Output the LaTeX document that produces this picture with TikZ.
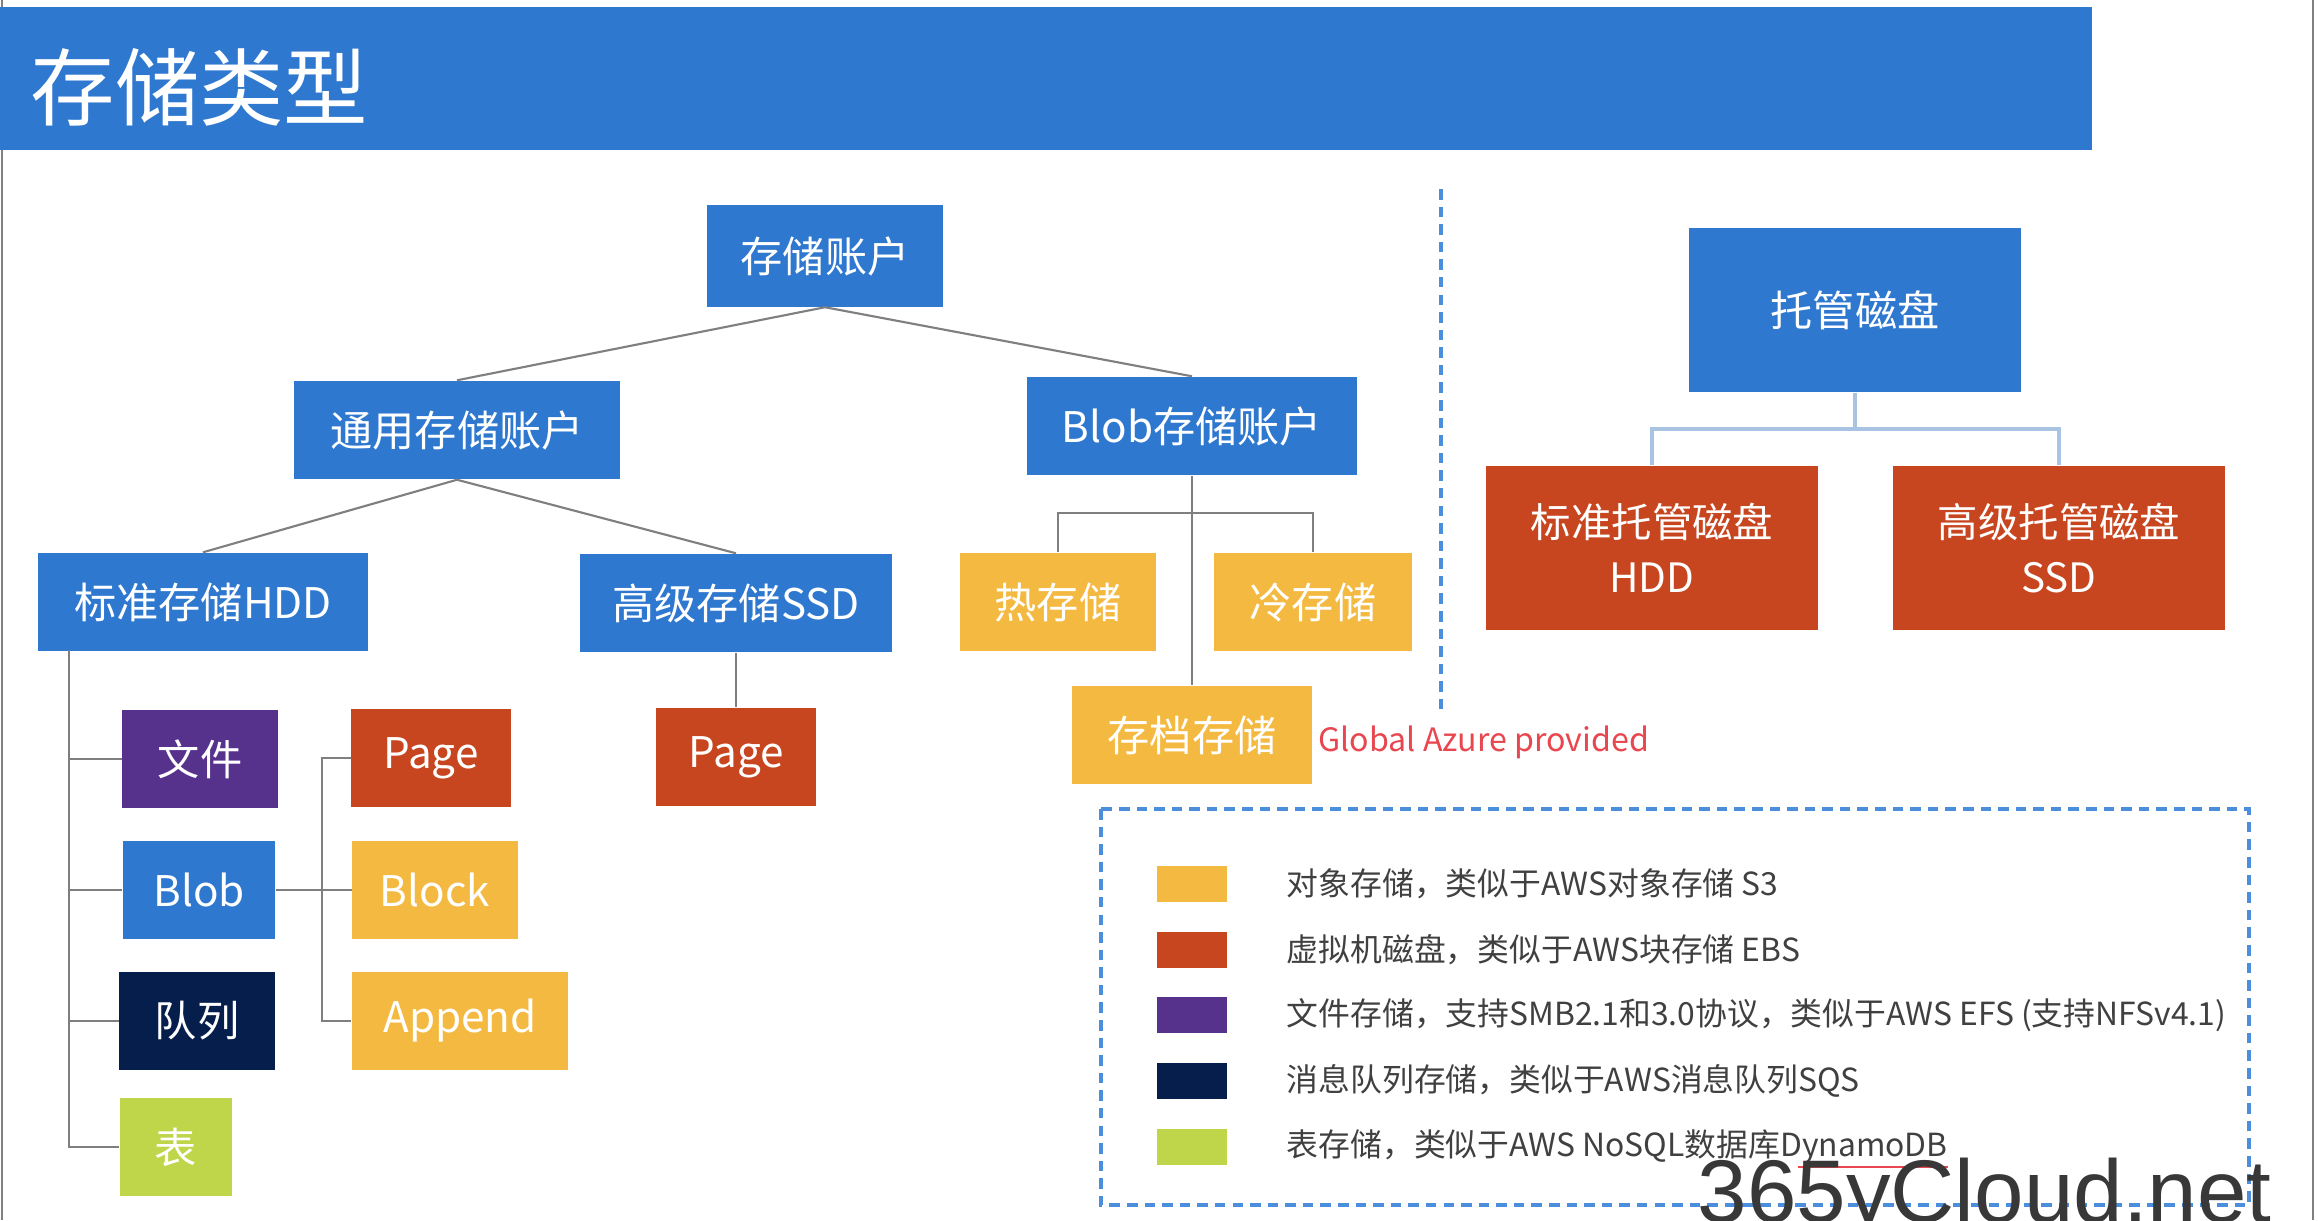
\documentclass[tikz,border=0pt]{standalone}
\usepackage{fontspec}
\newfontfamily\cjk{Noto Sans CJK SC}
\newfontfamily\wmfont{Liberation Sans}
\usetikzlibrary{positioning}

\definecolor{azblue}{HTML}{2F78D0}
\definecolor{azyellow}{HTML}{F4B940}
\definecolor{azred}{HTML}{C8461F}
\definecolor{azpurple}{HTML}{56328D}
\definecolor{aznavy}{HTML}{061E4B}
\definecolor{azgreen}{HTML}{BFD64B}
\definecolor{treegray}{HTML}{7F7F7F}
\definecolor{diskline}{HTML}{A8C4E2}
\definecolor{dashblue}{HTML}{4A8EDC}
\definecolor{notered}{HTML}{E8474F}
\definecolor{legendtext}{HTML}{404040}
\definecolor{wmgray}{HTML}{383838}

\tikzset{
  box/.style={rectangle, inner sep=0pt, minimum height=0.98cm, text=white,
    font=\cjk\fontsize{12}{12}\selectfont},
  bluebox/.style={box, fill=azblue},
  yellowbox/.style={box, fill=azyellow},
  redbox/.style={box, fill=azred},
  diskbox/.style={redbox, minimum width=3.32cm, minimum height=1.64cm, align=center,
    font=\cjk\fontsize{11.5}{15.6}\selectfont},
  tree/.style={draw=treegray, line width=0.6pt},
  diskconn/.style={draw=diskline, line width=1.2pt},
  bluedash/.style={draw=dashblue, line width=1pt, dash pattern=on 3pt off 2pt},
  swatch/.style={rectangle, inner sep=0pt, minimum width=0.70cm, minimum height=0.36cm},
  legendlabel/.style={anchor=west, inner sep=0pt, text=legendtext,
    font=\cjk\fontsize{9.05}{9.05}\selectfont}
}

\begin{document}
\begin{tikzpicture}[x=0.01cm, y=-0.01cm]
\useasboundingbox (0,0) rectangle (2318,1220);
\fill[white] (0,0) rectangle (2318,1220);
\draw[gray, line width=0.6pt] (2,0) -- (2,1220);
\draw[gray, line width=0.6pt] (2313,0) -- (2313,1220);

% title bar
\fill[azblue] (0,7) rectangle (2092,150);
\node[anchor=west, inner sep=0pt, text=white, font=\cjk\fontsize{24}{24}\selectfont]
    (title) at (30,87) {存储类型};

% storage accounts
\node[bluebox, minimum width=2.36cm, minimum height=1.01cm] (acct) at (825,256) {存储账户};
\node[bluebox, minimum width=3.25cm] (gpv) at (457,430) {通用存储账户};
\node[bluebox, minimum width=3.29cm] (blobacct) at (1192,426) {Blob存储账户};
\node[bluebox, minimum width=3.29cm] (stdhdd) at (203,602) {标准存储HDD};
\node[bluebox, minimum width=3.11cm] (premssd) at (736,603) {高级存储SSD};
\node[yellowbox, minimum width=1.95cm] (hot) at (1058,602) {热存储};
\node[yellowbox, minimum width=1.97cm] (cool) at (1313,602) {冷存储};
\node[yellowbox, minimum width=2.40cm] (archive) at (1192,735) {存档存储};
\node[redbox, minimum width=1.60cm] (ssdpage) at (736,757) {Page};
\node[right=0.05cm of archive, yshift=-0.07cm, inner sep=0pt, text=notered,
    font=\cjk\fontsize{9.15}{9.15}\selectfont] (global) {Global Azure provided};

% services under standard HDD
\node[box, fill=azpurple, minimum width=1.55cm] (file) at (200,759) {文件};
\node[bluebox, minimum width=1.52cm] (blob) at (199,890) {Blob};
\node[box, fill=aznavy, minimum width=1.55cm] (queue) at (197,1021) {队列};
\node[box, fill=azgreen, minimum width=1.12cm] (table) at (176,1147) {表};
\node[redbox, minimum width=1.59cm] (page) at (431,758) {Page};
\node[yellowbox, minimum width=1.65cm] (block) at (435,890) {Block};
\node[yellowbox, minimum width=2.16cm] (append) at (460,1021) {Append};

\draw[tree] (acct.south) -- (gpv.north);
\draw[tree] (acct.south) -- (blobacct.north);
\draw[tree] (gpv.south) -- (stdhdd.north);
\draw[tree] (gpv.south) -- (premssd.north);
\draw[tree] (premssd.south) -- (ssdpage.north);
\draw[tree] (blobacct.south) -- (archive.north);
\coordinate (tiers) at (1192,513);
\draw[tree] (hot.north) |- (tiers) -| (cool.north);

\coordinate (hddtrunk) at (69,650);
\draw[tree] (hddtrunk) |- (table.west);
\foreach \n in {file,blob,queue}
  \draw[tree] (hddtrunk |- \n.west) -- (\n.west);
\coordinate (blobtrunk) at (322,890);
\draw[tree] (blob.east) -- (block.west);
\draw[tree] (page.west) -| (blobtrunk |- append.west) -- (append.west);

% managed disks
\draw[bluedash] (1441,189) -- (1441,710);
\node[bluebox, minimum width=3.31cm, minimum height=1.64cm] (managed) at (1855,310) {托管磁盘};
\node[diskbox] (stdmd) at (1652,548) {标准托管磁盘\\HDD};
\node[diskbox] (premmd) at (2059,548) {高级托管磁盘\\SSD};
\coordinate (diskbar) at (1855,429);
\draw[diskconn] (managed.south) -- (diskbar);
\draw[diskconn] (stdmd.north) |- (diskbar) -| (premmd.north);

% legend
\draw[bluedash] (1101,809) rectangle (2249,1205);
\foreach \c/\t [count=\i] in {
    azyellow/{对象存储，类似于AWS对象存储 S3},
    azred/{虚拟机磁盘，类似于AWS块存储 EBS},
    azpurple/{文件存储，支持SMB2.1和3.0协议，类似于AWS EFS (支持NFSv4.1)},
    aznavy/{消息队列存储，类似于AWS消息队列SQS},
    azgreen/{表存储，类似于AWS NoSQL数据库DynamoDB}} {
  \node[swatch, fill=\c] (sw\i) at (1192,{818.3+65.7*\i}) {};
  \node[legendlabel] (lbl\i) at (1286,{818.3+65.7*\i}) {\t};
}
\draw[notered, line width=0.5pt] ([xshift=-1.5cm, yshift=-0.02cm]lbl5.south east)
    -- ([yshift=-0.02cm]lbl5.south east);

\node[anchor=base west, inner sep=0pt, text=wmgray,
    font=\wmfont\fontsize{25.3}{25.3}\selectfont] (mark) at (1697,1222) {365yCloud.net};
\end{tikzpicture}
\end{document}
